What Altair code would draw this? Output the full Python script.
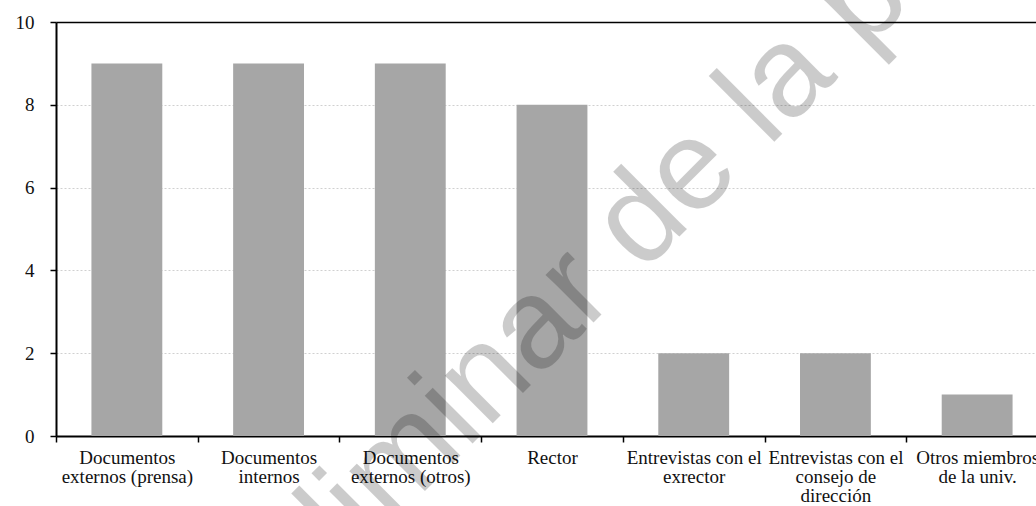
import altair as alt
import pandas as pd

categories = [
    "Documentos|externos (prensa)",
    "Documentos|internos",
    "Documentos|externos (otros)",
    "Rector",
    "Entrevistas con el|exrector",
    "Entrevistas con el|consejo de|dirección",
    "Otros miembros|de la univ.",
]
values = [9, 9, 9, 8, 2, 2, 1]
y_ticks = [0, 2, 4, 6, 8, 10]
watermark = "preliminar de la publicación"

df = pd.DataFrame({"categoria": categories, "valor": values})

W, H = 980, 414
RANGE_W = 992
SERIF = "'Liberation Serif', 'Times New Roman', serif"

bars = alt.Chart(df).mark_bar(color="#a6a6a6", width=alt.RelativeBandSize(0.5)).encode(
    x=alt.X(
        "categoria:N",
        sort=None,
        title=None,
        scale=alt.Scale(paddingInner=0, paddingOuter=0, range=[0, RANGE_W]),
        axis=alt.Axis(
            labelAngle=0,
            labelExpr="split(datum.label, '|')",
            labelFont=SERIF,
            labelFontSize=19,
            labelLineHeight=19,
            labelColor="#111111",
            labelPadding=6,
            labelBaseline="top",
            tickBand="extent",
            tickSize=6,
            tickColor="black",
            tickWidth=1.5,
            domainColor="black",
            domainWidth=2,
            grid=False,
            labelLimit=300,
        ),
    ),
    y=alt.Y(
        "valor:Q",
        title=None,
        scale=alt.Scale(domain=[0, 10], nice=False),
        axis=alt.Axis(
            values=y_ticks,
            labelFont=SERIF,
            labelFontSize=19,
            labelColor="#111111",
            labelPadding=16,
            tickSize=6,
            tickColor="black",
            tickWidth=1.5,
            domainColor="black",
            domainWidth=2,
            grid=True,
            gridColor=alt.condition("datum.value == 10", alt.value("black"), alt.value("#d0d0d0")),
            gridDash=alt.condition("datum.value == 10", alt.value([1, 0]), alt.value([2, 2])),
            gridWidth=alt.condition("datum.value == 10", alt.value(1.5), alt.value(1)),
        ),
    ),
)

wm = alt.Chart(pd.DataFrame({"t": [watermark]})).mark_text(
    font="Liberation Sans",
    fontSize=128,
    angle=315,
    align="left",
    baseline="alphabetic",
    color="black",
    opacity=0.2,
).encode(text="t:N", x=alt.value(164), y=alt.value(674))

chart = alt.layer(bars, wm).properties(
    width=W,
    height=H,
    autosize=alt.AutoSizeParams(type="none"),
    padding={"left": 56, "top": 22, "right": 0, "bottom": 70},
).configure(font=SERIF).configure_axis(labelFont=SERIF).configure_view(stroke=None)

chart.save("out.html", embed_options={"renderer": "svg", "actions": False})
